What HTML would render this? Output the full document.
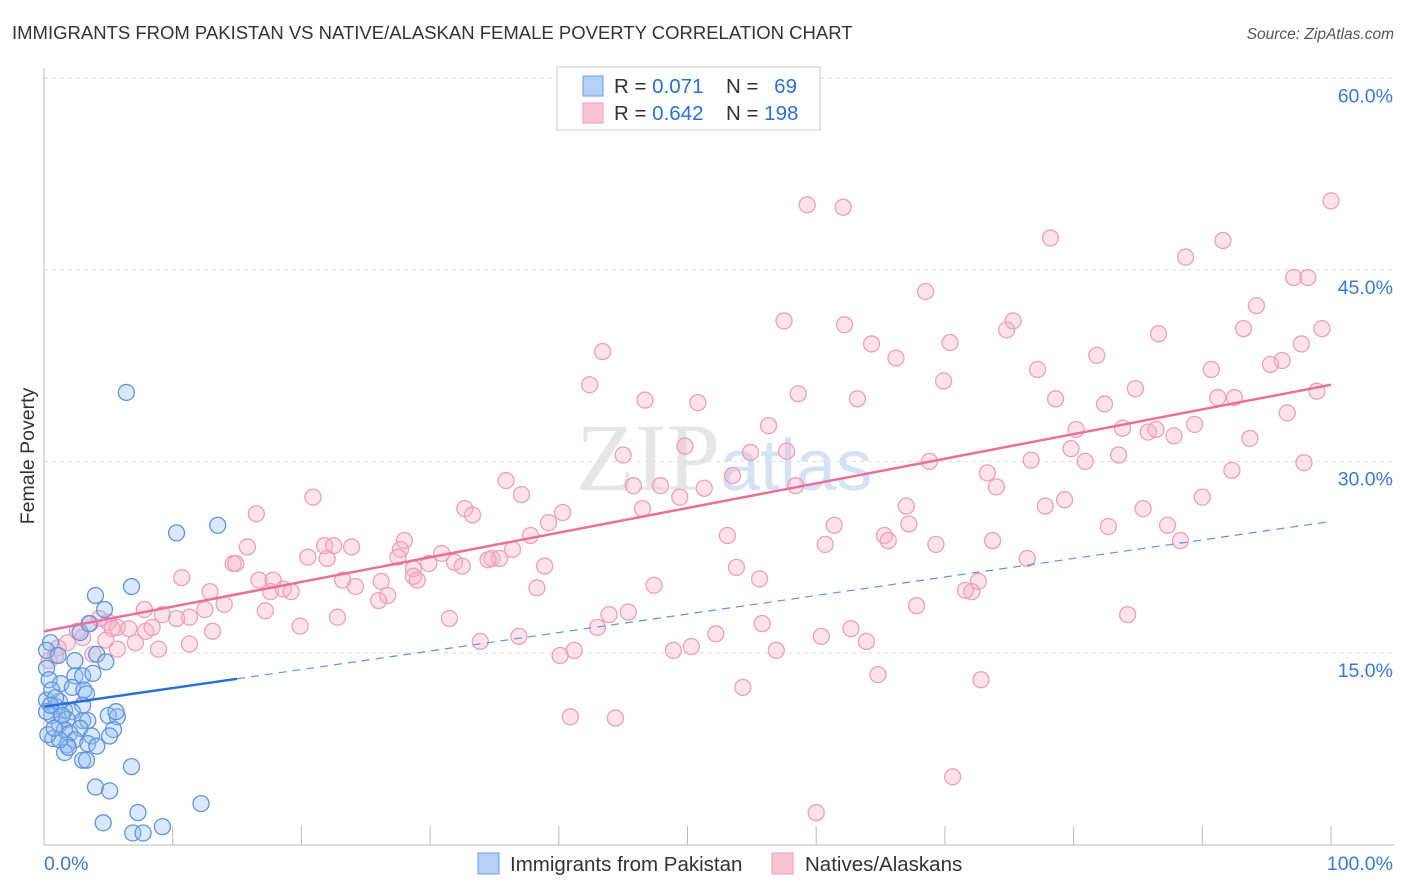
<!DOCTYPE html>
<html><head><meta charset="utf-8"><style>
body{margin:0;background:#fff;font-family:"Liberation Sans",sans-serif;}
svg{display:block}
</style></head><body>
<svg id="chart" width="1406" height="892">
<text x="12" y="39" font-size="18.5" fill="#333">IMMIGRANTS FROM PAKISTAN VS NATIVE/ALASKAN FEMALE POVERTY CORRELATION CHART</text>
<text x="1394" y="39" font-size="15.5" fill="#555" font-style="italic" text-anchor="end">Source: ZipAtlas.com</text>
<text x="720" y="490" font-size="96" fill="#e6e6e6" text-anchor="end" font-family="Liberation Serif,serif">ZIP</text>
<text x="720" y="490" font-size="72" fill="#d5e2f3">atlas</text>
<text x="34" y="456" font-size="19.5" fill="#333" text-anchor="middle" transform="rotate(-90 34 456)">Female Poverty</text>
<g id="grid"></g><g id="pts"></g><g id="lines"></g>
<g>
<rect x="557" y="67" width="263" height="63" fill="#fff" stroke="#ccc"/>
<rect x="583" y="76" width="20" height="20" fill="#b6d0f4" stroke="#6b9ae0"/>
<rect x="583" y="103" width="20" height="20" fill="#f9c5d4" stroke="#ee9ab4"/>
<text x="614" y="93" font-size="20.5" fill="#333">R = <tspan fill="#2a6fd6">0.071</tspan></text>
<text x="726" y="93" font-size="20.5" fill="#333">N = <tspan fill="#2a6fd6" dx="10">69</tspan></text>
<text x="614" y="120" font-size="20.5" fill="#333">R = <tspan fill="#2a6fd6">0.642</tspan></text>
<text x="726" y="120" font-size="20.5" fill="#333">N = <tspan fill="#2a6fd6">198</tspan></text>
</g>
<g>
<rect x="478" y="853" width="21" height="21" fill="#b6d0f4" stroke="#6b9ae0"/>
<text x="510" y="871" font-size="20.5" fill="#333">Immigrants from Pakistan</text>
<rect x="772" y="853" width="21" height="21" fill="#f9c5d4" stroke="#ee9ab4"/>
<text x="805" y="871" font-size="20.5" fill="#333">Natives/Alaskans</text>
</g>
</svg>
<script>
const yTicks=[15,30,45,60];
const xTickLabels=["0.0%","100.0%"];
const pinkX=[59.3,62.1,100,78.2,91.6,88.7,97.1,98.2,68.5,94.2,57.5,62.2,75.3,74.8,93.2,86.6,99.3,64.3,70.4,97.7,81.8,43.4,66.2,69.9,77.2,90.7,96.2,95.3,42.4,58.6,63.2,84.8,91.2,92.5,98.9,46.7,50.8,78.6,82.4,96.6,56.3,80.2,83.8,85.8,86.4,89.4,87.8,49.8,54.9,57.7,93.7,79.8,83.5,80.9,45.0,68.8,97.9,92.3,73.3,35.9,45.8,47.9,49.4,51.3,53.5,74.0,58.4,37.1,20.9,76.7,90.0,79.3,32.7,33.3,77.8,46.5,67.0,85.4,40.3,39.2,16.5,67.2,61.4,82.7,87.3,53.1,65.3,65.6,60.7,69.3,73.7,88.3,37.8,28.0,15.8,14.7,14.9,20.5,22.0,21.8,22.5,23.9,27.7,27.5,30.9,28.7,29.9,31.9,32.5,34.8,35.4,34.5,36.4,38.9,10.7,16.7,17.8,18.6,19.2,17.6,23.2,26.2,28.7,29.0,76.4,53.8,55.6,72.6,72.1,71.6,26.7,26.0,24.2,38.3,47.4,12.9,14.0,12.5,11.3,7.8,9.2,10.3,17.2,22.8,19.9,31.5,43.9,45.4,67.8,84.2,3.6,5.0,5.7,4.3,5.3,2.6,4.8,6.6,7.9,8.4,13.1,43.0,52.2,55.8,62.7,63.9,3.0,7.1,11.3,8.9,5.7,3.8,1.8,1.1,0.4,0.9,33.9,36.9,41.2,40.1,50.3,48.9,56.9,60.4,64.8,72.8,54.3,40.9,44.4,70.6,60.0];
const pinkY=[50.1,49.9,50.4,47.5,47.3,46.0,44.4,44.4,43.3,42.2,41.0,40.7,41.0,40.3,40.4,40.0,40.4,39.2,39.3,39.2,38.3,38.6,38.1,36.3,37.2,37.2,37.9,37.6,36.0,35.3,34.9,35.7,35.0,35.0,35.5,34.8,34.6,34.9,34.5,33.8,32.8,32.5,32.6,32.3,32.5,32.9,32.0,31.2,30.7,30.8,31.8,31.0,30.5,30.0,30.5,30.0,29.9,29.3,29.1,28.5,28.1,28.1,27.2,27.9,28.9,28.0,28.1,27.4,27.2,30.1,27.2,27.0,26.3,25.8,26.5,26.3,26.5,26.3,26.0,25.2,25.9,25.1,25.0,24.9,25.0,24.2,24.2,23.8,23.5,23.5,23.8,23.8,24.2,23.8,23.3,22.0,22.0,22.5,22.4,23.4,23.4,23.3,23.1,22.5,22.8,21.6,22.0,22.1,21.8,22.4,22.4,22.3,23.1,21.8,20.9,20.7,20.7,20.0,19.8,19.8,20.7,20.6,21.0,20.7,22.4,21.7,20.8,20.6,19.8,19.9,19.5,19.1,20.2,20.1,20.3,19.8,18.8,18.4,17.8,18.4,18.0,17.7,18.3,17.8,17.1,17.7,18.0,18.2,18.7,18.0,17.3,17.4,17.0,17.7,16.9,16.7,16.0,16.9,16.7,17.0,16.7,17.0,16.5,17.3,16.9,15.9,16.2,15.8,15.7,15.3,15.3,14.9,15.8,15.4,14.4,14.8,15.9,16.3,15.2,14.8,15.5,15.2,15.2,16.3,13.3,12.9,12.3,10.0,9.9,5.3,2.5];
const blueX=[6.4,10.3,13.5,6.8,4.0,4.7,2.8,3.5,0.5,0.2,1.1,2.4,4.1,4.8,0.2,2.4,3.0,3.8,0.4,1.3,2.2,3.1,3.3,0.2,0.9,1.2,1.6,0.6,3.0,2.2,5.0,5.7,5.6,1.2,1.8,3.0,3.4,2.8,1.6,2.0,3.7,0.7,2.4,3.4,4.1,1.8,5.4,1.6,1.9,3.0,3.3,6.8,4.0,5.1,4.6,7.3,12.2,6.9,7.7,9.2,0.6,0.2,0.9,5.1,1.2,0.3,0.5,1.4,0.8];
const blueY=[35.4,24.4,25.0,20.2,19.5,18.4,16.6,17.3,15.8,15.2,14.8,14.4,14.9,14.3,13.8,13.2,13.2,13.4,12.9,12.6,12.3,12.1,11.8,11.3,10.8,11.2,10.5,10.1,10.9,10.4,10.1,10.0,10.4,9.4,9.8,9.7,9.7,9.1,9.0,8.7,8.5,8.3,8.2,7.9,7.7,7.8,9.0,7.2,7.6,6.6,6.6,6.1,4.5,4.2,1.7,2.5,3.2,0.9,0.9,1.4,12.1,10.4,11.5,8.5,8.2,8.6,10.9,10.1,9.1];
const pinkTrend=[16.7,36.0];
const blueTrend=[10.8,25.3];
const blueSolidEnd=15;
const NS="http://www.w3.org/2000/svg";
const X0=44,X1=1331,Y0=844.5,YS=12.77;
const sx=v=>X0+(X1-X0)*v/100, sy=v=>Y0-v*YS;
function mk(tag,attrs,parent){const e=document.createElementNS(NS,tag);for(const k in attrs)e.setAttribute(k,attrs[k]);parent.appendChild(e);return e;}
const grid=document.getElementById('grid');
yTicks.forEach(t=>{
 const l=mk('line',{x1:X0,x2:1394,y1:sy(t),y2:sy(t),stroke:'#ddd','stroke-dasharray':'4,4'},grid);
 
 
 const tx=mk('text',{x:1393,y:sy(t)+24,'font-size':19.5,fill:'#3b78d8','text-anchor':'end'},grid);
 tx.textContent=t.toFixed(1)+'%';
 
 
});
const ax=mk('line',{x1:X0,x2:1394,y1:845,y2:845,stroke:'#bbb'},grid);


const ay=mk('line',{x1:X0,x2:X0,y1:68,y2:845,stroke:'#bbb'},grid);


for(let i=0;i<=10;i++){const t=mk('line',{x1:sx(i*10),x2:sx(i*10),y1:826,y2:845,stroke:'#bbb'},grid);
 
 }
[[0,X0,'start'],[1,1393,'end']].forEach(([i,x,a])=>{const t=mk('text',{x:x,y:870,'font-size':19.5,fill:'#3b78d8','text-anchor':a},grid);t.textContent=xTickLabels[i];
 
 });
const pts=document.getElementById('pts');
pinkX.forEach((v,i)=>{const c=mk('circle',{cx:sx(v),cy:sy(pinkY[i]),r:8,fill:'rgba(246,175,197,0.35)',stroke:'#eea0b8','stroke-width':1.3},pts);
 
 });
blueX.forEach((v,i)=>{const c=mk('circle',{cx:sx(v),cy:sy(blueY[i]),r:8,fill:'rgba(150,190,240,0.35)',stroke:'#5f95dd','stroke-width':1.3},pts);
 
 });
const lines=document.getElementById('lines');
const tr=(a,x)=>a[0]+(a[1]-a[0])*x/100;
const pl=mk('line',{x1:sx(0),y1:sy(tr(pinkTrend,0)),x2:sx(100),y2:sy(tr(pinkTrend,100)),stroke:'#e8709a','stroke-width':2.5},lines);


const bd=mk('line',{x1:sx(blueSolidEnd),y1:sy(tr(blueTrend,blueSolidEnd)),x2:sx(100),y2:sy(tr(blueTrend,100)),stroke:'#5f95dd','stroke-width':1.2,'stroke-dasharray':'8,6'},lines);


const bl=mk('line',{x1:sx(0),y1:sy(tr(blueTrend,0)),x2:sx(blueSolidEnd),y2:sy(tr(blueTrend,blueSolidEnd)),stroke:'#2a6fd6','stroke-width':2.5},lines);


</script>
</body></html>
